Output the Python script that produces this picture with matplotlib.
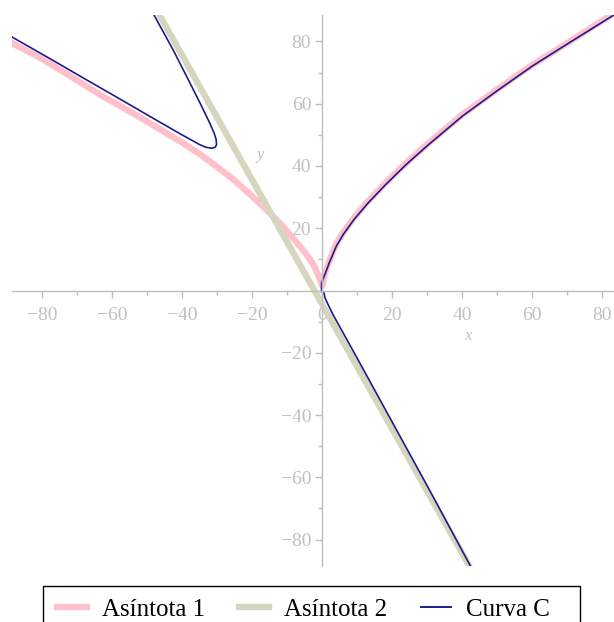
import matplotlib
matplotlib.use("Agg")
import matplotlib.pyplot as plt
from matplotlib.ticker import MultipleLocator, FixedLocator
from matplotlib.lines import Line2D
from matplotlib.patches import Rectangle

# Asíntota 1 (cusp-shaped curve through origin)
asint1_x = [-89.5, -80, -73, -63, -54, -45, -40, -35, -30, -25, -20.7, -15.4, -12, -8.3, -5, -2.6, -1, 0,
            0.8, 2, 4, 6, 9, 13, 18, 24, 30, 40, 50, 60, 70, 84]
asint1_y = [80.0, 74.4, 69.6, 62.6, 56.9, 50.9, 47.5, 43.8, 39.7, 35.3, 31.0, 25.3, 21.5, 16.8, 12.3, 8.5, 4.6, 1.5,
            5.6, 9.5, 15.0, 18.7, 23.3, 28.6, 34.5, 41.0, 47.0, 56.5, 64.6, 72.5, 79.5, 89.6]

# Asíntota 2 (straight line)
asint2_x = [-47.5, 42.5]
asint2_y = [90.5, -89.5]

# Curva C, upper-left branch
curva1_x = [-48.8, -48.1, -42.6, -38.7, -34.9, -32.1, -30.9, -30.3, -30.2, -30.6, -31.6, -33.2, -34.9, -40.7,
            -49.2, -58.7, -68.3, -77.8, -89.5]
curva1_y = [90.0, 88.6, 77.3, 68.7, 60.2, 53.7, 50.6, 48.5, 46.8, 46.0, 45.7, 46.0, 46.8, 50.4,
            55.9, 62.1, 68.3, 74.5, 82.0]

# Curva C, right branch + lower branch (continuous through the origin)
curva2_x = [84, 70, 60, 50, 40, 30, 24, 18, 13, 9, 6, 4, 2, 0.8, 0.3, -0.2, -0.2, 0.5, 0.8, 1.7, 3.1,
            10, 20, 30, 42.8]
curva2_y = [89.0, 79.2, 72.1, 64.2, 56.0, 46.5, 40.5, 33.9, 28.0, 22.7, 18.0, 14.2, 8.9, 5.3, 3.9, 2.4, -0.3, -0.8,
            -2.4, -4.6, -7.8, -21.8, -42.3, -62.8, -89.5]

xticks = [-80, -60, -40, -20, 0, 20, 40, 60, 80]
yticks = [-80, -60, -40, -20, 20, 40, 60, 80]
labels = ["Asíntota 1", "Asíntota 2", "Curva C"]
colors = ["#ffc0cb", "#d6d6be", "#1c1c8c"]

W, H = 614, 622
fig = plt.figure(figsize=(W / 100, H / 100), dpi=100)
ax = fig.add_axes([11.7 / W, 1 - 566 / H, (632.8 - 11.7) / W, (566 - 15) / H])
ax.set_xlim(-88.7, 88.7)
ax.set_ylim(-88.5, 88.5)

ax.plot(asint1_x, asint1_y, color=colors[0], lw=4.6, solid_capstyle="butt")
ax.plot(asint2_x, asint2_y, color=colors[1], lw=4.6, solid_capstyle="butt")
ax.plot(curva1_x, curva1_y, color=colors[2], lw=1.2)
ax.plot(curva2_x, curva2_y, color=colors[2], lw=1.2)

gray = "#bdbdbd"
for s in ["top", "right"]:
    ax.spines[s].set_visible(False)
for s in ["left", "bottom"]:
    ax.spines[s].set_position(("data", 0))
    ax.spines[s].set_color(gray)
    ax.spines[s].set_linewidth(1.0)

ax.xaxis.set_major_locator(FixedLocator(xticks))
ax.yaxis.set_major_locator(FixedLocator(yticks))
ax.xaxis.set_minor_locator(MultipleLocator(10))
ax.yaxis.set_minor_locator(MultipleLocator(10))
ax.tick_params(which="both", direction="out", color=gray, width=1.0)
ax.tick_params(which="major", length=5)
ax.tick_params(which="minor", length=3)
ax.tick_params(axis="x", pad=7)
ax.tick_params(axis="y", pad=3)
for lab in ax.get_xticklabels() + ax.get_yticklabels():
    lab.set_fontfamily("Liberation Serif")
    lab.set_fontsize(14)
    lab.set_color("#c0c0c0")

ax.text(41.6, -14.5, "x", fontfamily="Liberation Serif", style="italic", fontsize=12,
        color="#c0c0c0", ha="center", va="center")
ax.text(-17.8, 43.6, "y", fontfamily="Liberation Serif", style="italic", fontsize=12,
        color="#c0c0c0", ha="center", va="center")

# legend
fig.patches.append(Rectangle((43 / W, 1 - 640 / H), (580 - 43) / W, (640 - 586) / H,
                             transform=fig.transFigure, fill=False, edgecolor="black", lw=1.0))
handles = [Line2D([], [], color=colors[0], lw=4.6),
           Line2D([], [], color=colors[1], lw=4.6),
           Line2D([], [], color=colors[2], lw=1.4)]
fig.legend(handles, labels, loc="upper left", bbox_to_anchor=(52 / W, 1 - 593 / H), ncol=3,
           frameon=False, prop={"family": "Liberation Serif", "size": 18},
           handlelength=1.2, handletextpad=0.6, columnspacing=1.35, borderpad=0.2,
           borderaxespad=0)

fig.savefig("out.png", dpi=100)
